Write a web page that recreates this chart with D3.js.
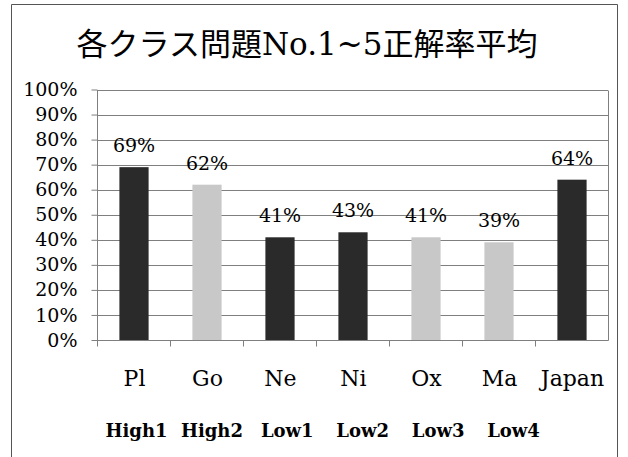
<!DOCTYPE html>
<html>
<head>
<meta charset="utf-8">
<script src="https://cdn.jsdelivr.net/npm/d3@7"></script>
<style>
  html, body { margin: 0; padding: 0; background: #fff; }
  svg { display: block; }
</style>
</head>
<body>
<svg id="chart" width="628" height="457"></svg>
<script>
// Average correct-answer rate on questions No.1–5, by class
const title = "各クラス問題No.1~5正解率平均";
const categories = ["Pl", "Go", "Ne", "Ni", "Ox", "Ma", "Japan"];
const values = [0.69, 0.62, 0.41, 0.43, 0.41, 0.39, 0.64];
const groups = ["A", "B", "A", "A", "B", "B", "A"];
const levels = ["High1", "High2", "Low1", "Low2", "Low3", "Low4"];
const yTicks = [0, 0.1, 0.2, 0.3, 0.4, 0.5, 0.6, 0.7, 0.8, 0.9, 1.0];

const FONT = "'DejaVu Serif', 'Liberation Serif', serif";
const TITLE_FONT = "'DejaVu Serif', 'Noto Sans CJK JP', serif";

const svg = d3.select("#chart");

// outer chart frame (open at the bottom)
svg.append("path")
  .attr("d", "M11.5,457 V4.5 H617.5 V457")
  .attr("fill", "none").attr("stroke", "#555").attr("stroke-width", 1);

// title
svg.append("text")
  .attr("x", 307).attr("y", 55)
  .attr("text-anchor", "middle")
  .style("font-family", TITLE_FONT)
  .attr("font-size", 31)
  .text(title);

const x = d3.scaleBand().domain(categories).range([97, 608]).padding(0);
const y = d3.scaleLinear().domain([0, 1]).range([340, 89.5]);
const color = d3.scaleOrdinal().domain(["A", "B"]).range(["#2a2a2a", "#c8c8c8"]);

// horizontal gridlines
svg.append("g")
  .selectAll("line").data(yTicks.filter(d => d > 0)).join("line")
  .attr("x1", 97).attr("x2", 608)
  .attr("y1", d => Math.round(y(d)) + 0.5).attr("y2", d => Math.round(y(d)) + 0.5)
  .attr("stroke", "#7f7f7f").attr("stroke-width", 1);

// right edge of plot area
svg.append("line")
  .attr("x1", 608.5).attr("x2", 608.5)
  .attr("y1", Math.round(y(1)) + 0.5).attr("y2", Math.round(y(0)) + 0.5)
  .attr("stroke", "#7f7f7f");

// bars
const barW = x.bandwidth() * 0.4;
svg.append("g")
  .selectAll("rect").data(categories).join("rect")
  .attr("x", (d) => x(d) + x.bandwidth() / 2 - barW / 2 + 0.5)
  .attr("width", barW)
  .attr("y", (d, i) => y(values[i]))
  .attr("height", (d, i) => y(0) - y(values[i]))
  .attr("fill", (d, i) => color(groups[i]));

// value labels
svg.append("g")
  .selectAll("text").data(categories).join("text")
  .attr("x", d => x(d) + x.bandwidth() / 2 + 0.5)
  .attr("y", (d, i) => y(values[i]) - 15)
  .attr("text-anchor", "middle")
  .style("font-family", FONT)
  .attr("font-size", 19)
  .text((d, i) => d3.format(".0%")(values[i]));

// y axis
const yAxis = svg.append("g")
  .attr("transform", "translate(97.5,0)")
  .call(d3.axisLeft(y).tickValues(yTicks).tickFormat(d3.format(".0%")).tickSize(6).tickPadding(14));
yAxis.attr("font-family", null).attr("font-size", null);
yAxis.select(".domain").attr("stroke", "#7f7f7f").attr("d", "M0,346.5V" + (Math.round(y(1)) + 0.5));
yAxis.selectAll(".tick line").attr("stroke", "#7f7f7f");
yAxis.selectAll(".tick text")
  .style("font-family", FONT).style("font-size", "19px").attr("fill", "#000");

// x axis baseline with ticks at category boundaries
const xAxis = svg.append("g");
xAxis.append("line")
  .attr("x1", 97).attr("x2", 608.5)
  .attr("y1", 340.5).attr("y2", 340.5)
  .attr("stroke", "#7f7f7f");
xAxis.selectAll("line.tick").data(categories.slice(1)).join("line")
  .attr("class", "tick")
  .attr("x1", d => Math.round(x(d)) + 0.5).attr("x2", d => Math.round(x(d)) + 0.5)
  .attr("y1", 340.5).attr("y2", 346.5)
  .attr("stroke", "#7f7f7f");

// category labels
svg.append("g")
  .selectAll("text").data(categories).join("text")
  .attr("x", d => x(d) + x.bandwidth() / 2 + 1)
  .attr("y", 386)
  .attr("text-anchor", "middle")
  .style("font-family", FONT)
  .attr("font-size", 22)
  .text(d => d);

// class level labels, evenly spaced beneath the class columns
const lx = d3.scalePoint().domain(levels).range([136.5, 513.5]);
svg.append("g")
  .selectAll("text").data(levels).join("text")
  .attr("x", d => lx(d))
  .attr("y", 437)
  .attr("text-anchor", "middle")
  .style("font-family", FONT)
  .attr("font-size", 18)
  .attr("font-weight", "bold")
  .text(d => d);
</script>
</body>
</html>
